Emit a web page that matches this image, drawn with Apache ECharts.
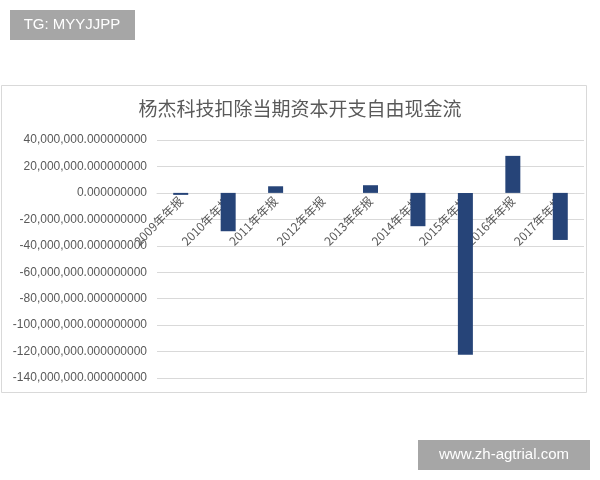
<!DOCTYPE html>
<html lang="zh" style="height: 100%;margin: 0;">
<head>
    <meta charset="UTF-8">
    <title>chart</title>
</head>
<body style="height: 100%;margin: 0;background:#fff;">
<div id="chart" style="width: 600px;height: 480px;margin: 0;"></div>
<script src="https://cdn.jsdelivr.net/npm/echarts@6/dist/echarts.min.js"></script>
<script>
    var title = '杨杰科技扣除当期资本开支自由现金流';
    var categories = ['2009年年报', '2010年年报', '2011年年报', '2012年年报', '2013年年报',
        '2014年年报', '2015年年报', '2016年年报', '2017年年报'];
    var cashFlow = [-1500000, -29000000, 5000000, 0, 5800000, -25200000, -122500000, 28000000, -35600000];
    var yMin = -140000000;
    var yMax = 40000000;
    var yStep = 20000000;

    var font = '"Liberation Sans", Arial, "Noto Sans CJK SC", sans-serif';
    var grey = '#595959';
    var gridTop = 140, gridBottom = 102, height = 480;
    // category labels sit under the zero line, as in the spreadsheet
    var plotHeight = height - gridTop - gridBottom;
    var zeroOffset = -plotHeight * (0 - yMin) / (yMax - yMin);

    var myChart = echarts.init(document.getElementById('chart'), null, {renderer: 'canvas'});

    function fmt(v) {
        return v.toLocaleString('en-US', {minimumFractionDigits: 9, maximumFractionDigits: 9});
    }

    var option = {
        backgroundColor: '#fff',
        animation: false,
        textStyle: {fontFamily: font},
        title: {
            text: title,
            left: 'center',
            top: 94,
            textStyle: {fontSize: 19, fontWeight: 'normal', color: grey, fontFamily: '"Noto Sans CJK SC", sans-serif'}
        },
        graphic: [
            {type: 'rect', shape: {x: 1.5, y: 85.5, width: 585, height: 307}, style: {fill: 'none', stroke: '#d9d9d9', lineWidth: 1}, z: -1},
            {type: 'rect', shape: {x: 10, y: 10, width: 125, height: 30}, style: {fill: '#a6a6a6'}},
            {type: 'text', x: 72, y: 25, style: {text: 'TG: MYYJJPP', fill: '#fff', font: '15px ' + font, align: 'center', verticalAlign: 'middle'}},
            {type: 'rect', shape: {x: 418, y: 440, width: 172, height: 30}, style: {fill: '#a6a6a6'}},
            {type: 'text', x: 504, y: 455, style: {text: 'www.zh-agtrial.com', fill: '#fff', font: '15px ' + font, align: 'center', verticalAlign: 'middle'}}
        ],
        grid: {left: 157, right: 16, top: gridTop, bottom: gridBottom, containLabel: false},
        xAxis: {
            type: 'category',
            data: categories,
            offset: zeroOffset,
            axisLine: {onZero: false, lineStyle: {color: '#d9d9d9'}},
            axisTick: {show: false},
            axisLabel: {rotate: 45, fontSize: 12, color: grey, margin: 6, interval: 0,
                fontFamily: '"Noto Sans CJK SC", sans-serif'}
        },
        yAxis: {
            type: 'value',
            min: yMin,
            max: yMax,
            interval: yStep,
            axisLine: {show: false},
            axisTick: {show: false},
            splitLine: {lineStyle: {color: '#d9d9d9'}},
            axisLabel: {fontSize: 12, color: grey, margin: 10, formatter: fmt}
        },
        series: [{
            type: 'bar',
            data: cashFlow,
            barWidth: 15,
            itemStyle: {color: '#264478'}
        }]
    };

    myChart.setOption(option, true);
</script>
</body>
</html>
